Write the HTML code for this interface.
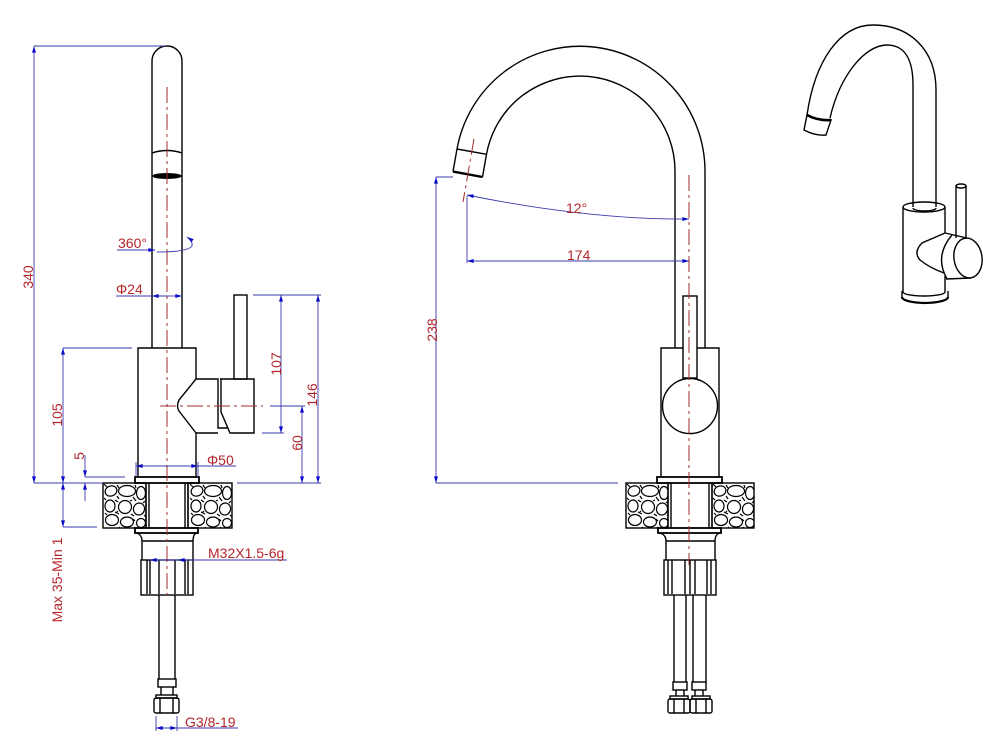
<!DOCTYPE html>
<html><head><meta charset="utf-8"><style>
html,body{margin:0;padding:0;background:#fff;}
svg{display:block;}
text{font-family:"Liberation Sans",Arial,sans-serif;font-size:14px;fill:#b3262b;}
</style></head><body>
<svg width="1007" height="741" viewBox="0 0 1007 741" xmlns="http://www.w3.org/2000/svg">
<defs>
<marker id="a" viewBox="0 0 10 6" refX="10" refY="3" markerWidth="7" markerHeight="4" orient="auto-start-reverse" markerUnits="userSpaceOnUse"><path d="M0,0L10,3L0,6z" fill="#0a0ac8"/></marker>
<g id="cob" fill="none" stroke="#000" stroke-width="1.2">
<ellipse cx="8" cy="8" rx="6" ry="5" transform="rotate(-20 8 8)"/>
<ellipse cx="24" cy="8" rx="8.5" ry="5.5"/>
<ellipse cx="38" cy="10" rx="4.5" ry="6.5"/>
<ellipse cx="7" cy="23" rx="5" ry="6"/>
<ellipse cx="22" cy="24" rx="6.5" ry="6.5"/>
<ellipse cx="36" cy="26" rx="5.5" ry="6" transform="rotate(15 36 26)"/>
<ellipse cx="9" cy="37" rx="6.5" ry="5.5"/>
<ellipse cx="24" cy="39" rx="6.5" ry="5"/>
<ellipse cx="38" cy="40" rx="4.5" ry="4.5"/>
<path d="M1,1L4,4M14,2L16,5M14,13L16,16M32,2L33,5M30,14L33,18M1,15L3,17M12,17L15,19M12,29L16,31M28,31L31,33M42,18L40,20M2,30L4,32M16,44L18,46M31,44L33,46M30,36L32,38M41,32L43,34M13,30L15,28M29,17L27,18"/>
</g>
<clipPath id="c1"><rect x="103" y="483" width="43" height="45"/></clipPath>
<clipPath id="c2"><rect x="188" y="483" width="44" height="45"/></clipPath>
<clipPath id="c3"><rect x="626" y="483" width="42" height="45"/></clipPath>
<clipPath id="c4"><rect x="712" y="483" width="42" height="45"/></clipPath>
</defs>

<!-- ================= LEFT FAUCET ================= -->
<g fill="none" stroke="#000" stroke-width="1.4">
<path d="M152,348V61A15,15 0 0 1 182,61V348"/>
<path d="M152,153Q167,148 182,153"/>
<path d="M138,477V348H196V379M196,433V477"/>
<path d="M196,379L179,400Q176,406 179,411L196,433"/>
<path d="M196,379H218V428H228M196,433H218"/>
<path d="M220,379H254V433H230L221,412V379"/>
<rect x="234" y="295" width="13" height="84"/>
<rect x="135" y="477" width="64" height="6" stroke-width="1.8"/>
<rect x="103" y="483" width="43" height="45"/>
<rect x="188" y="483" width="44" height="45"/>
<path d="M146,483V528M149,483V528M185,483V528M188,483V528"/>
<rect x="135" y="528" width="63" height="5" stroke-width="1.8"/>
<path d="M137,533Q142,535 142,541V560M196,533Q193,535 193,541V560M142,541H193"/>
<rect x="141" y="560" width="52" height="35"/>
<path d="M147,560V594M150,560V594M159,560V594M175,560V594M185,560V594M188,560V594"/>
<path d="M159,595V679M175,595V679"/>
<rect x="158" y="679" width="18" height="8"/>
<path d="M161,687V695M173,687V695"/>
<rect x="156" y="695" width="21" height="3"/>
<rect x="154" y="698" width="25" height="15" rx="2"/>
<path d="M160,698V713M173,698V713"/>
</g>
<ellipse cx="167" cy="176" rx="15" ry="3" fill="#000"/>
<g clip-path="url(#c1)"><use href="#cob" x="103" y="483"/></g>
<g clip-path="url(#c2)"><use href="#cob" x="189" y="483"/></g>

<!-- centerlines left -->
<g stroke="#a02c2c" stroke-width="1" stroke-dasharray="16 4 3 4" fill="none">
<path d="M167,87V596"/>
<path d="M160,406H263"/>
</g>

<!-- dimensions left -->
<g stroke="#3a3aae" stroke-width="0.9" fill="none">
<path d="M34,46H166"/>
<path d="M34,483H103M237,483H321"/>
<path d="M63,348H132"/>
<path d="M63,527H97"/>
<path d="M85,477H125"/>
<path d="M253,295H321"/>
<path d="M262,433H284"/>
<path d="M270,406H305"/>
<path d="M136,462V477M198,462V477"/>
<path d="M156,716V731M177,716V731"/>
<path d="M34,46V483" marker-start="url(#a)" marker-end="url(#a)"/>
<path d="M63,348V483" marker-start="url(#a)" marker-end="url(#a)"/>
<path d="M63,483V527" marker-start="url(#a)" marker-end="url(#a)"/>
<path d="M85,455V477" marker-end="url(#a)"/>
<path d="M85,501V483" marker-end="url(#a)"/>
<path d="M281,295V433" marker-start="url(#a)" marker-end="url(#a)"/>
<path d="M318,295V483" marker-start="url(#a)" marker-end="url(#a)"/>
<path d="M302,406V483" marker-start="url(#a)" marker-end="url(#a)"/>
<path d="M117,250H155" marker-end="url(#a)"/>
<path d="M157,252Q188,252 192,246Q193,241 187,237" marker-end="url(#a)"/>
<path d="M116,296H167"/>
<path d="M167,296H152" marker-end="url(#a)"/>
<path d="M167,296H182" marker-end="url(#a)"/>
<path d="M136,466H236" marker-start="url(#a)"/>
<path d="M180,466H198" marker-end="url(#a)"/>
<path d="M150,560H287" marker-start="url(#a)"/>
<path d="M192,560H178" marker-end="url(#a)"/>
<path d="M156,728H238" marker-start="url(#a)"/>
<path d="M170,728H177" marker-end="url(#a)"/>
</g>
<text transform="translate(33,277) rotate(-90)" text-anchor="middle">340</text>
<text transform="translate(62,415) rotate(-90)" text-anchor="middle">105</text>
<text transform="translate(62,580) rotate(-90)" text-anchor="middle">Max 35-Min 1</text>
<text transform="translate(84,456) rotate(-90)" text-anchor="middle">5</text>
<text transform="translate(281,364) rotate(-90)" text-anchor="middle">107</text>
<text transform="translate(317,395) rotate(-90)" text-anchor="middle">146</text>
<text transform="translate(302,443) rotate(-90)" text-anchor="middle">60</text>
<text x="118" y="248">360°</text>
<text x="116" y="294">Φ24</text>
<text x="207" y="465">Φ50</text>
<text x="208" y="558">M32X1.5-6g</text>
<text x="185" y="727">G3/8-19</text>

<!-- ================= MIDDLE FAUCET ================= -->
<g fill="none" stroke="#000" stroke-width="1.4">
<path d="M705,348V171A125,125 0 0 0 457,149"/>
<path d="M675,348V171A95,95 0 0 0 486.5,154.3"/>
<path d="M457,149L486.5,154.3L482.5,177M457,149L453,171.6"/>
<path d="M453,171.6L482.5,177" stroke-width="2.4"/>
<path d="M661,477V348H683M697,348H719V477"/>
<rect x="683" y="296" width="14" height="82"/>
<circle cx="690" cy="406" r="27.5"/>
<rect x="657" y="477" width="65" height="6" stroke-width="1.8"/>
<rect x="626" y="483" width="42" height="45"/>
<rect x="712" y="483" width="42" height="45"/>
<path d="M668,483V528M671,483V528M709,483V528M712,483V528"/>
<rect x="658" y="528" width="63" height="5" stroke-width="1.8"/>
<path d="M660,533Q666,535 666,541V560M719,533Q715,535 715,541V560M666,541H715"/>
<rect x="664" y="560" width="52" height="35"/>
<path d="M668,560V594M672,560V594M685,560V594M690,560V594M695,560V594M707,560V594M711,560V594"/>
<path d="M674,595V682M686,595V682M693,595V682M706,595V682"/>
<rect x="673" y="682" width="14" height="8"/>
<rect x="692" y="682" width="14" height="8"/>
<path d="M676,690V696M684,690V696M695,690V696M703,690V696"/>
<rect x="670" y="696" width="18" height="3"/>
<rect x="692" y="696" width="18" height="3"/>
<rect x="668" y="699" width="22" height="14" rx="2"/>
<rect x="690" y="699" width="22" height="14" rx="2"/>
<path d="M674,699V713M684,699V713M696,699V713M706,699V713"/>
</g>
<g clip-path="url(#c3)"><use href="#cob" x="626" y="483"/></g>
<g clip-path="url(#c4)"><use href="#cob" x="712" y="483"/></g>

<g stroke="#a02c2c" stroke-width="1" stroke-dasharray="16 4 3 4" fill="none">
<path d="M689,175V565"/>
<path d="M474,139L463,202"/>
</g>

<g stroke="#3a3aae" stroke-width="0.9" fill="none">
<path d="M436,177H453"/>
<path d="M436,483H618"/>
<path d="M467,196V263"/>
<path d="M436,177V483" marker-start="url(#a)" marker-end="url(#a)"/>
<path d="M467,195Q590,220 689,219" marker-start="url(#a)" marker-end="url(#a)"/>
<path d="M467,261H689" marker-start="url(#a)" marker-end="url(#a)"/>
</g>
<text x="566" y="213">12°</text>
<text x="567" y="260">174</text>
<text transform="translate(437,330) rotate(-90)" text-anchor="middle">238</text>

<!-- ================= RIGHT ISOMETRIC FAUCET ================= -->
<g fill="none" stroke="#000" stroke-width="1.4">
<path d="M936,207V90C936,50 910,25 873,25C840,25 815,60 807,115"/>
<path d="M913,207V85C913,60 905,45 887,45C865,45 840,75 830,118"/>
<path d="M807,115Q818,121 831,120L826,135Q815,136 804,130Z"/>
<path d="M807,115Q818,121 831,120" stroke-width="2.6"/>
<ellipse cx="924" cy="207" rx="21" ry="5"/>
<path d="M913,208A11.5,3 0 0 0 936,208"/>
<path d="M903,207V292M945,207V233M945,276V292"/>
<path d="M903,292A21,4 0 0 0 945,292"/>
<path d="M902,291V297A23,6 0 0 0 948,297V291"/>
<path d="M902,297A23,6 0 0 0 948,297" stroke-width="2.2"/>
<path d="M956,186V236M966,186V238"/>
<ellipse cx="961" cy="186" rx="5" ry="2"/>
<path d="M945,233L922,243Q913,252 920,260Q930,268 944,273" fill="#fff"/>
<path d="M945,233L968,238L972,278L947,279Q933,256 945,233Z" fill="#fff" stroke="none"/>
<path d="M945,233L967,238M946,279L971,278"/>
<path d="M952,235Q934,256 947,279"/>
<ellipse cx="968" cy="258" rx="14" ry="20" transform="rotate(-8 968 258)" fill="#fff"/>
<path d="M956,236V238M966,238V239"/>
</g>
</svg>
</body></html>
